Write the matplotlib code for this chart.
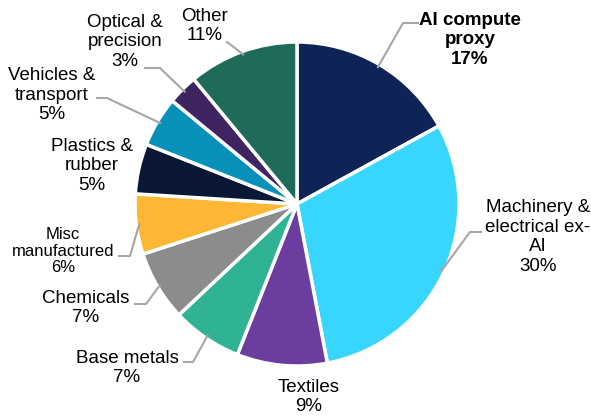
import numpy as np
import matplotlib.pyplot as plt

plt.rcParams['font.family'] = ['Liberation Sans', 'DejaVu Sans']

labels = ['AI compute\nproxy', 'Machinery &\nelectrical ex-\nAI', 'Textiles', 'Base metals',
          'Chemicals', 'Misc\nmanufactured', 'Plastics &\nrubber', 'Vehicles &\ntransport',
          'Optical &\nprecision', 'Other']
shares = [17, 30, 9, 7, 7, 6, 5, 5, 3, 11]
colors = ['#0E2356', '#38D6FD', '#6A3D9E', '#30B294', '#8C8C8C', '#FDB735',
          '#0A1836', '#0891B8', '#3E2461', '#1E6B5A']

# layout in pixel coords (y down): label centre, leader elbow, leader end
label_pos = [(470, 40), (538, 237), (309, 397), (127, 368), (86, 308), (63, 251),
             (92, 166), (52, 95), (125, 42), (205, 26)]
elbows = [(403, 23), (470, 232), None, (193, 362), (146, 304), (130, 256),
          None, (107, 98), (160, 68), None]
ends = [(418, 23), (481, 232), None, (184, 362), (135, 304), (119, 256),
        None, (97, 98), (145, 68), (227, 42)]

W, H = 591, 416
cx, cy, R = 297, 204, 162


def py(y):
    return H - y


fig = plt.figure(figsize=(W / 100, H / 100), dpi=100)
ax = fig.add_axes([0, 0, 1, 1])
wedges, _ = ax.pie(shares, colors=colors, startangle=90, counterclock=False,
                   radius=R, center=(cx, py(cy)),
                   wedgeprops=dict(edgecolor='white', linewidth=2.5))
ax.set_xlim(0, W)
ax.set_ylim(0, H)
ax.set_aspect('equal')
ax.axis('off')

for i, w in enumerate(wedges):
    txt = f'{labels[i]}\n{shares[i]}%'
    lx, ly = label_pos[i]
    fs = 12 if i == 5 else 13.5
    fw = 'bold' if i == 0 else 'normal'
    ax.text(lx, py(ly), txt, ha='center', va='center', fontsize=fs,
            fontweight=fw, color='black', linespacing=1.22 if i != 5 else 1.15)
    if ends[i] is None:
        continue
    mid = np.deg2rad((w.theta1 + w.theta2) / 2)
    sx = cx + (R - 3) * np.cos(mid)
    sy = py(cy) + (R - 3) * np.sin(mid)
    xs = [sx]
    ys = [sy]
    if elbows[i] is not None:
        xs.append(elbows[i][0])
        ys.append(py(elbows[i][1]))
    xs.append(ends[i][0])
    ys.append(py(ends[i][1]))
    ax.plot(xs, ys, color='#A6A6A6', lw=1.5)

fig.savefig('out.png', dpi=100)
